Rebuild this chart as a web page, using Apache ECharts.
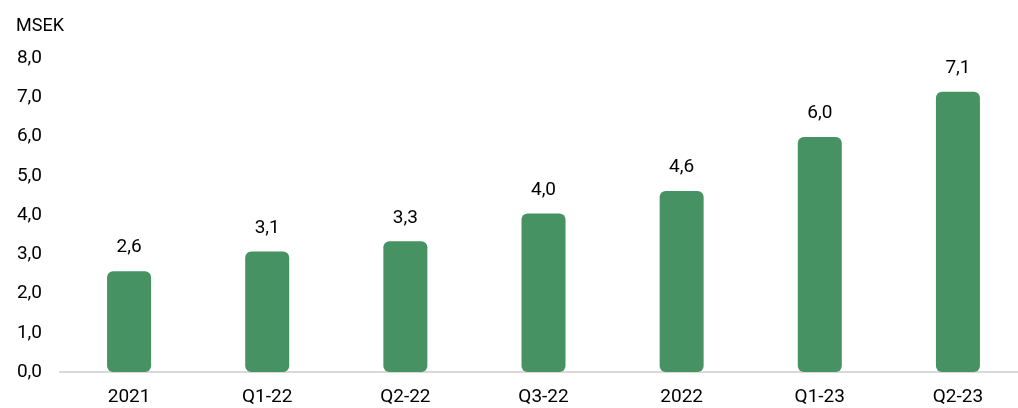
<!DOCTYPE html>
<html>
<head>
<meta charset="utf-8">
<script src="https://cdn.jsdelivr.net/npm/echarts@6/dist/echarts.min.js"></script>
<style>html,body{margin:0;padding:0;background:#fff;overflow:hidden;width:1018px;height:408px}#c{width:1027px;height:408px}</style>
</head>
<body>
<div id="c"></div>
<script>
const categories = ['2021', 'Q1-22', 'Q2-22', 'Q3-22', '2022', 'Q1-23', 'Q2-23'];
const values = [2.57, 3.07, 3.33, 4.04, 4.61, 5.99, 7.14];
const labels = ['2,6', '3,1', '3,3', '4,0', '4,6', '6,0', '7,1'];
const unit = 'MSEK';

const FONT = 'Roboto';
const chart = echarts.init(document.getElementById('c'), null, {renderer: 'canvas'});
chart.setOption({
  animation: false,
  backgroundColor: '#ffffff',
  title: {
    text: unit, left: 11, top: 12,
    textStyle: {fontFamily: FONT, fontSize: 18, fontWeight: 'normal', color: '#000'}
  },
  grid: {left: 60, right: 0, top: 58, bottom: 36, containLabel: false},
  xAxis: {
    type: 'category', data: categories,
    axisLine: {lineStyle: {color: '#d9d9d9', width: 2}},
    axisTick: {show: false},
    axisLabel: {fontFamily: FONT, fontSize: 19, color: '#000', margin: 16}
  },
  yAxis: {
    type: 'value', min: 0, max: 8, interval: 1,
    splitLine: {show: false},
    axisLine: {show: false}, axisTick: {show: false},
    axisLabel: {fontFamily: FONT, fontSize: 19, color: '#000', margin: 18,
      formatter: v => v.toFixed(1).replace('.', ',')}
  },
  series: [{
    type: 'bar', data: values, barWidth: 44,
    itemStyle: {color: '#469263', borderRadius: 6},
    label: {
      show: true, position: 'top', distance: 14,
      fontFamily: FONT, fontSize: 19, color: '#000',
      formatter: p => labels[p.dataIndex]
    }
  }]
});
</script>
</body>
</html>
